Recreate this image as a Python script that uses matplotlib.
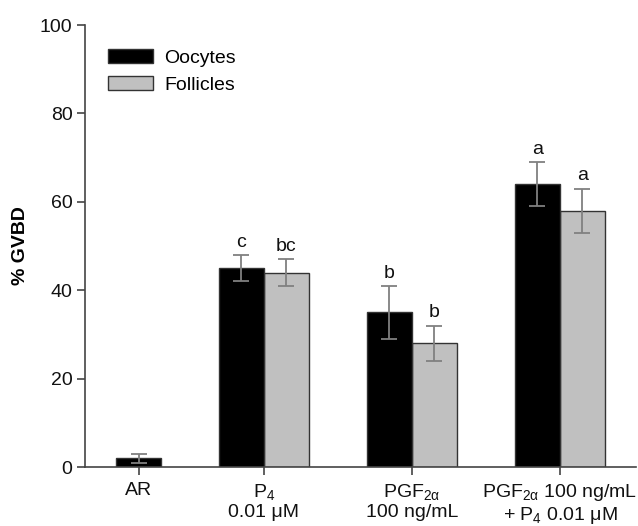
import numpy as np
import matplotlib
matplotlib.use("Agg")
import matplotlib.pyplot as plt

plt.rcParams['font.family'] = ['Liberation Sans', 'DejaVu Sans']
plt.rcParams['mathtext.fontset'] = 'custom'
plt.rcParams['mathtext.rm'] = 'Liberation Sans'
plt.rcParams['mathtext.it'] = 'Liberation Sans'
plt.rcParams['mathtext.bf'] = 'Liberation Sans:bold'

# ------------------------------- DATA --------------------------------------
groups = ['AR', 'P$_4$\n0.01 μM', 'PGF$_{2\\alpha}$\n100 ng/mL',
          'PGF$_{2\\alpha}$ 100 ng/mL\n+ P$_4$ 0.01 μM']
oocytes = [2, 45, 35, 64]
oocytes_err = [1, 3, 6, 5]
oocytes_letters = ['', 'c', 'b', 'a']
follicles = [None, 44, 28, 58]       # no follicle bar for AR
follicles_err = [None, 3, 4, 5]
follicles_letters = ['', 'bc', 'b', 'a']

# group centres (AR sits closer to P4 than the regular spacing)
centers = np.array([0.155, 1.0, 2.0, 3.0])
bar_w = 0.304
FS = 14

# ------------------------------- PLOT ---------------------------------------
fig = plt.figure(figsize=(6.38, 5.26), dpi=100)
ax = fig.add_axes([85 / 638, 59 / 526, 551 / 638, 442 / 526])

edge = '#333333'
err_c = '#808080'
for i, c in enumerate(centers):
    if follicles[i] is None:
        xo = c
    else:
        xo = c - bar_w / 2
        xf = c + bar_w / 2
        ax.bar(xf, follicles[i], bar_w, color='#c0c0c0', edgecolor=edge,
               linewidth=1.0, zorder=2)
        ax.errorbar(xf, follicles[i], yerr=follicles_err[i], fmt='none',
                    ecolor=err_c, elinewidth=1.3, capsize=5.8, capthick=1.3,
                    zorder=3)
        ax.annotate(follicles_letters[i], (xf, follicles[i] + follicles_err[i]),
                    xytext=(0, 3), textcoords='offset points', ha='center',
                    va='bottom', fontsize=FS, color='#111111')
    ax.bar(xo, oocytes[i], bar_w, color='black', edgecolor=edge,
           linewidth=1.0, zorder=2)
    ax.errorbar(xo, oocytes[i], yerr=oocytes_err[i], fmt='none',
                ecolor=err_c, elinewidth=1.3, capsize=5.8, capthick=1.3,
                zorder=3)
    if oocytes_letters[i]:
        ax.annotate(oocytes_letters[i], (xo, oocytes[i] + oocytes_err[i]),
                    xytext=(0, 3), textcoords='offset points', ha='center',
                    va='bottom', fontsize=FS, color='#111111')

# legend handles
ax.bar(np.nan, np.nan, color='black', edgecolor=edge, label='Oocytes')
ax.bar(np.nan, np.nan, color='#c0c0c0', edgecolor=edge, label='Follicles')
ax.legend(loc='upper left', frameon=False, fontsize=FS,
          bbox_to_anchor=(0.01, 0.985), handlelength=2.3, handleheight=0.7,
          handletextpad=0.6, labelspacing=0.5)

ax.set_xlim(-0.209, 3.514)
ax.set_ylim(0, 100)
ax.set_yticks([0, 20, 40, 60, 80, 100])
ax.set_xticks(centers)
ax.set_xticklabels(groups, linespacing=1.1)
ax.set_ylabel('% GVBD', fontsize=FS, fontweight='bold', labelpad=8)

for s in ['top', 'right']:
    ax.spines[s].set_visible(False)
for s in ['left', 'bottom']:
    ax.spines[s].set_color('#444444')
    ax.spines[s].set_linewidth(1.2)
ax.tick_params(axis='both', direction='out', length=6, width=1.2,
               color='#444444', labelsize=FS, labelcolor='#111111')
ax.tick_params(axis='x', pad=5)
ax.tick_params(axis='y', pad=3)

fig.savefig('out.png', dpi=100)
